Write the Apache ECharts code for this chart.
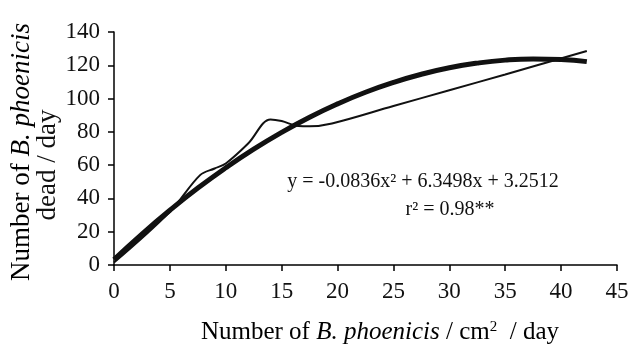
<!DOCTYPE html>
<html><head><meta charset="utf-8">
<script src="https://cdn.jsdelivr.net/npm/echarts@6/dist/echarts.min.js"></script>
<style>html,body{margin:0;padding:0;background:#fff}#c{width:634px;height:345px}</style>
</head><body><div id="c"></div>
<script>
// Observed (thin line)
const obsX = [0, 5, 7.7, 9, 10, 12, 14, 15, 16.5, 17.5, 19.5, 25, 30, 35, 42.3];
const obsY = [1.5, 32, 54, 58, 61, 73, 87.5, 86.5, 83.5, 83.3, 85, 95.5, 105, 114.5, 128.6];
// Fitted curve (thick line)
const fitX = [0, 2.5, 5, 7.5, 10, 12.5, 15, 17.5, 20, 22.5, 25, 27.5, 30, 32.5, 35, 37.5, 40, 42.3];
const fitY = [3.3, 18.6, 32.9, 46.2, 58.4, 69.6, 79.7, 88.8, 96.8, 103.8, 109.7, 114.6, 118.5, 121.3, 123.1, 123.8, 123.5, 122.2];
const xTicks = {min: 0, max: 45, interval: 5};
const yTicks = {min: 0, max: 140, interval: 20};
const eqText = 'y = -0.0836x² + 6.3498x + 3.2512';
const r2Text = 'r² = 0.98**';

const font = 'Liberation Serif';
const chart = echarts.init(document.getElementById('c'), null, {renderer: 'canvas'});
const pair = (xs, ys) => xs.map((x, i) => [x, ys[i]]);
chart.setOption({
  animation: false,
  backgroundColor: '#fff',
  grid: {left: 114, right: 17, top: 32, bottom: 80},
  xAxis: {
    type: 'value', min: xTicks.min, max: xTicks.max, interval: xTicks.interval,
    axisLine: {show: true, lineStyle: {color: '#000', width: 1.5}},
    axisTick: {show: true, inside: false, length: 6, lineStyle: {color: '#000', width: 1.5}},
    axisLabel: {color: '#111', fontFamily: font, fontSize: 23, margin: 15},
    splitLine: {show: false}
  },
  yAxis: {
    type: 'value', min: yTicks.min, max: yTicks.max, interval: yTicks.interval,
    axisLine: {show: true, lineStyle: {color: '#000', width: 1.5}},
    axisTick: {show: true, inside: false, length: 6, lineStyle: {color: '#000', width: 1.5}},
    axisLabel: {color: '#111', fontFamily: font, fontSize: 23, margin: 14},
    splitLine: {show: false}
  },
  series: [
    {type: 'line', data: pair(obsX, obsY), smooth: 0.35, symbol: 'none',
     lineStyle: {color: '#111', width: 2}, z: 2},
    {type: 'line', data: pair(fitX, fitY), smooth: true, symbol: 'none',
     lineStyle: {color: '#111', width: 5}, z: 3}
  ],
  graphic: [
    {type: 'text', x: 423, y: 182,
     style: {text: eqText, font: '20px "' + font + '"', fill: '#111', align: 'center', verticalAlign: 'middle'}},
    {type: 'text', x: 450, y: 210,
     style: {text: r2Text, font: '20px "' + font + '"', fill: '#111', align: 'center', verticalAlign: 'middle'}},
    {type: 'text', x: 380, y: 332,
     style: {text: '{n|Number of }{i|B. phoenicis}{n| / cm}{s|2}{n|  / day}',
       align: 'center', verticalAlign: 'middle',
       rich: {
         n: {fontFamily: font, fontSize: 25, color: '#111'},
         i: {fontFamily: font, fontSize: 25, fontStyle: 'italic', color: '#111'},
         s: {fontFamily: font, fontSize: 15, color: '#111', verticalAlign: 'top', padding: [0, 0, 10, 0]}
       }}},
    {type: 'text', x: 22, y: 152, rotation: Math.PI / 2,
     style: {text: '{n|Number of }{i|B. phoenicis}',
       align: 'center', verticalAlign: 'middle',
       rich: {
         n: {fontFamily: font, fontSize: 27, color: '#111'},
         i: {fontFamily: font, fontSize: 27, fontStyle: 'italic', color: '#111'}
       }}},
    {type: 'text', x: 48, y: 165, rotation: Math.PI / 2,
     style: {text: 'dead / day', font: '27px "' + font + '"', fill: '#111',
       align: 'center', verticalAlign: 'middle'}}
  ]
});
</script></body></html>
